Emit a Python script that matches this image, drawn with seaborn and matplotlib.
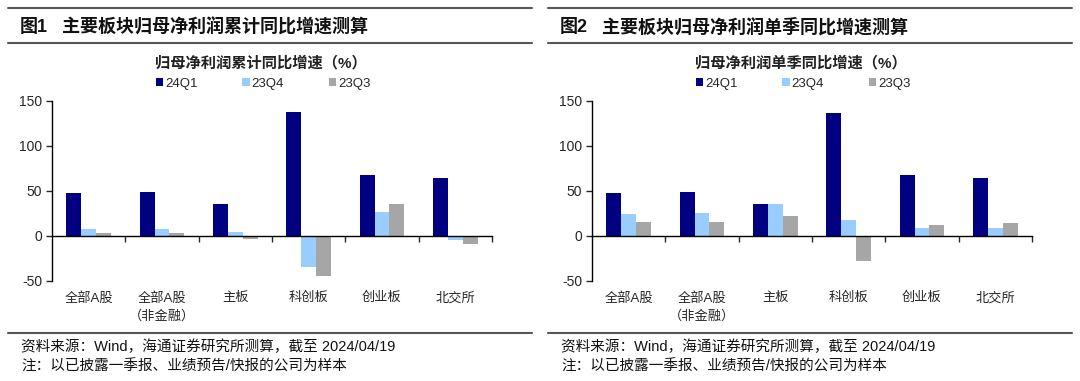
import matplotlib
matplotlib.use("Agg")
import matplotlib.pyplot as plt
import numpy as np
import pandas as pd
import seaborn as sns

# 数据：累计同比 & 单季同比（%）
categories = ['全部A股', '全部A股\n（非金融）', '主板', '科创板', '创业板', '北交所']
series = ['24Q1', '23Q4', '23Q3']
colors = ['#000080', '#99CCFF', '#A6A6A6']

cum_24q1 = [47.4, 48.5, 35.2, 137.4, 68.1, 64.0]
cum_23q4 = [7.8, 8.1, 4.0, -34.0, 26.7, -4.0]
cum_23q3 = [3.3, 3.3, -3.3, -44.0, 35.2, -8.9]

sq_24q1 = [47.3, 48.4, 35.0, 136.6, 68.1, 64.0]
sq_23q4 = [24.2, 25.0, 35.0, 17.5, 9.3, 9.3]
sq_23q3 = [16.0, 16.0, 22.0, -28.3, 12.7, 14.5]

yticks = [-50, 0, 50, 100, 150]

headers = [('图1', '主要板块归母净利润累计同比增速测算'),
           ('图2', '主要板块归母净利润单季同比增速测算')]
titles = ['归母净利润累计同比增速（%）', '归母净利润单季同比增速（%）']
source_txt = '资料来源：Wind，海通证券研究所测算，截至 2024/04/19'
note_txt = '注：以已披露一季报、业绩预告/快报的公司为样本'

sns.set_style('ticks')
plt.rcParams['font.family'] = ['Liberation Sans', 'Noto Sans CJK SC']
plt.rcParams['axes.unicode_minus'] = False


def to_long(a, b, c):
    rows = []
    for name, vals in zip(series, [a, b, c]):
        for cat, v in zip(categories, vals):
            rows.append({'cat': cat, 'series': name, 'value': v})
    return pd.DataFrame(rows)


W, H = 1080, 381
fig = plt.figure(figsize=(W / 100, H / 100), dpi=100)

panels = [to_long(cum_24q1, cum_23q4, cum_23q3), to_long(sq_24q1, sq_23q4, sq_23q3)]
offsets = [0, 540]

for i, df in enumerate(panels):
    x0 = offsets[i]
    ax = fig.add_axes([(x0 + 52) / W, 1 - 281 / H, 440 / W, 180 / H])
    sns.barplot(data=df, x='cat', y='value', hue='series', palette=colors,
                width=0.61, gap=0, saturation=1, linewidth=0, ax=ax,
                order=categories, hue_order=series)

    ax.set_xlim(-0.5, len(categories) - 0.5)
    ax.set_ylim(-50, 150)
    ax.set_yticks(yticks)
    ax.tick_params(axis='y', direction='out', length=4, width=1, labelsize=10, pad=3)
    ax.set_xlabel('')
    ax.set_ylabel('')

    # x轴在0处，刻度在类别之间
    ax.spines['bottom'].set_position(('data', 0))
    ax.spines['top'].set_visible(False)
    ax.spines['right'].set_visible(False)
    for s in ['left', 'bottom']:
        ax.spines[s].set_color('black')
        ax.spines[s].set_linewidth(1)
    ax.set_xticks(np.arange(len(categories)) + 0.5, labels=[])
    ax.tick_params(axis='x', direction='out', length=4, width=1)

    sec = ax.secondary_xaxis('bottom')
    sec.set_xticks(np.arange(len(categories)), labels=categories)
    sec.tick_params(axis='x', length=0, pad=8, labelsize=9.5)
    sec.spines['bottom'].set_visible(False)
    for t in sec.get_xticklabels():
        t.set_linespacing(1.55)

    handles, labels = ax.get_legend_handles_labels()
    ax.legend(handles, labels, ncol=3, frameon=False, loc='center',
              bbox_to_anchor=(0.48, 1 + 17 / 180), fontsize=9.5,
              handlelength=0.55, handleheight=0.55, handletextpad=0.15,
              columnspacing=3.4, borderaxespad=0)

    # 标题
    fig.text((x0 + 261) / W, 1 - 63 / H, titles[i], ha='center', va='center',
             fontsize=11, fontweight='bold', color='#222222')

    # 页眉与分隔线
    for yy in [8, 43, 333]:
        fig.add_artist(plt.Line2D([(x0 + 8) / W, (x0 + 532) / W], [1 - yy / H, 1 - yy / H],
                                  color='#555555', linewidth=1.5))
    fig.text((x0 + 20) / W, 1 - 27 / H, headers[i][0], ha='left', va='center',
             fontsize=13, fontweight='bold', color='#111111')
    fig.text((x0 + 62) / W, 1 - 27 / H, headers[i][1], ha='left', va='center',
             fontsize=13, fontweight='bold', color='#111111')

    # 资料来源
    fig.text((x0 + 21) / W, 1 - 347 / H, source_txt, ha='left', va='center',
             fontsize=10.5, color='#111111')
    fig.text((x0 + 21) / W, 1 - 366 / H, note_txt, ha='left', va='center',
             fontsize=10.5, color='#111111')

fig.savefig('out.png', dpi=100)
